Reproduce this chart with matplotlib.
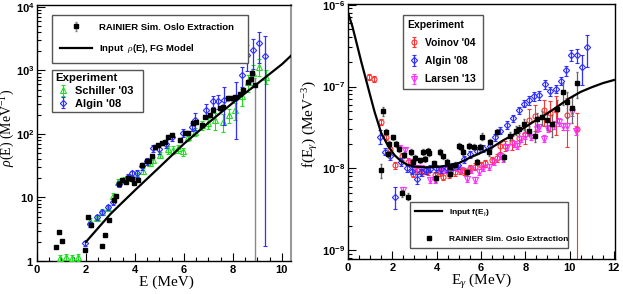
import matplotlib
matplotlib.use("Agg")
import matplotlib.pyplot as plt
from matplotlib.ticker import MultipleLocator, LogLocator, FuncFormatter, NullFormatter
from matplotlib.lines import Line2D
import numpy as np

plt.rcParams['mathtext.fontset'] = 'custom'
plt.rcParams['mathtext.rm'] = 'Liberation Serif'
plt.rcParams['mathtext.it'] = 'Liberation Serif:italic'
plt.rcParams['mathtext.bf'] = 'Liberation Sans:bold'
plt.rcParams['mathtext.sf'] = 'Liberation Sans'
plt.rcParams['font.family'] = ['Liberation Sans', 'DejaVu Sans']

# ---------------- Left panel: level density ----------------
fg_E = [2.0, 3.0, 4.0, 5.0, 6.0, 7.0, 8.0, 9.0, 10.0, 10.37]
fg_rho = [2.0, 5.5, 13.0, 30.0, 70.0, 150.0, 310.0, 620.0, 1250.0, 1700.0]

rho_blk_E = [0.76, 0.88, 1.01, 1.96, 2.09, 2.21, 2.67, 2.79, 2.94, 3.16, 3.21, 3.33,
             3.46, 3.62, 3.73, 3.86, 3.97, 4.11, 4.30, 4.48, 4.59, 4.71, 4.82, 4.95,
             5.09, 5.22, 5.36, 5.50, 5.84, 6.04, 6.18, 6.38, 6.50, 6.72, 6.86, 7.05,
             7.20, 7.47, 7.60, 7.81, 7.95, 8.08, 8.29, 8.42, 8.63, 8.74, 8.78, 8.90]
rho_blk = [1.68, 2.83, 2.07, 1.49, 5.0, 3.7, 1.72, 2.6, 4.4, 9.1, 10.5, 16.0,
           19.0, 17.7, 20.5, 19.5, 16.7, 19.0, 33.0, 38.0, 38.0, 45.0, 63.0, 67.0,
           71.0, 76.0, 91.0, 96.0, 80.0, 102.0, 104.0, 147.0, 155.0, 138.0, 187.0, 200.0,
           240.0, 253.0, 270.0, 365.0, 365.0, 380.0, 426.0, 490.0, 665.0, 740.0, 910.0, 590.0]
rho_blk_lo = [0.04, 0.04, 0.04, 0.04, 0.04, 0.04, 0.04, 0.04, 0.04, 0.04, 0.04, 0.04,
              0.04, 0.04, 0.04, 0.04, 0.04, 0.04, 0.04, 0.04, 0.04, 0.04, 0.04, 0.04,
              0.04, 0.04, 0.04, 0.04, 0.06, 0.06, 0.06, 0.06, 0.06, 0.06, 0.06, 0.06,
              0.06, 0.08, 0.08, 0.08, 0.08, 0.08, 0.08, 0.08, 0.12, 0.12, 0.10, 0.999]
rho_blk_hi = [0.04, 0.04, 0.04, 0.04, 0.04, 0.04, 0.04, 0.04, 0.04, 0.04, 0.04, 0.04,
              0.04, 0.04, 0.04, 0.04, 0.04, 0.04, 0.04, 0.04, 0.04, 0.04, 0.04, 0.04,
              0.04, 0.04, 0.04, 0.04, 0.06, 0.06, 0.06, 0.06, 0.06, 0.06, 0.06, 0.06,
              0.06, 0.08, 0.08, 0.08, 0.08, 0.08, 0.08, 0.08, 0.12, 0.12, 0.10, 0.30]

schiller_E = [0.93, 1.17, 1.42, 1.66, 2.16, 2.44, 2.67, 2.90, 3.10, 3.30, 3.55, 3.80,
              4.10, 4.34, 4.60, 4.75, 5.02, 5.33, 5.57, 5.77, 5.97, 6.18, 6.45, 6.72,
              7.00, 7.27, 7.60, 7.85, 8.08, 8.35, 8.60, 8.83, 9.07, 9.35]
schiller_rho = [1.12, 1.17, 1.10, 1.15, 4.3, 4.8, 5.9, 6.8, 10.5, 17.5, 19.0, 20.0,
                22.0, 26.0, 35.0, 39.0, 47.0, 57.0, 56.0, 59.0, 53.0, 91.0, 109.0, 138.0,
                150.0, 166.0, 156.0, 200.0, 240.0, 390.0, 650.0, 910.0, 1150.0, 800.0]
schiller_err = [0.12, 0.12, 0.12, 0.12, 0.1, 0.1, 0.1, 0.1, 0.1, 0.1, 0.1, 0.1,
                0.1, 0.1, 0.12, 0.12, 0.12, 0.15, 0.15, 0.15, 0.15, 0.15, 0.15, 0.15,
                0.2, 0.3, 0.3, 0.25, 0.3, 0.3, 0.3, 0.35, 0.3, 0.25]

algin_rho_E = [1.96, 2.16, 2.44, 2.67, 2.90, 3.12, 3.35, 3.73, 3.86, 4.07, 4.30, 4.49,
               4.75, 5.00, 5.25, 5.52, 5.97, 6.31, 6.45, 6.88, 7.17, 7.40, 7.65, 8.12,
               8.36, 8.58, 8.83, 9.07, 9.30]
algin_rho = [1.9, 3.8, 4.9, 5.8, 7.0, 8.5, 16.5, 21.0, 24.0, 24.0, 31.0, 37.0,
             60.0, 57.0, 70.0, 91.0, 105.0, 130.0, 166.0, 240.0, 330.0, 330.0, 345.0, 372.0,
             850.0, 1750.0, 2100.0, 2690.0, 1700.0]
algin_rho_lo = [0.1, 0.1, 0.1, 0.1, 0.1, 0.1, 0.1, 0.1, 0.1, 0.12, 0.12, 0.12,
                0.12, 0.15, 0.15, 0.15, 0.15, 0.15, 0.3, 0.25, 0.2, 0.25, 0.6, 0.78,
                0.35, 0.45, 0.5, 0.52, 0.999]
algin_rho_hi = [0.1, 0.1, 0.1, 0.1, 0.1, 0.1, 0.1, 0.1, 0.1, 0.12, 0.12, 0.12,
                0.12, 0.15, 0.15, 0.15, 0.15, 0.15, 0.3, 0.25, 0.2, 0.25, 0.6, 0.78,
                0.35, 0.45, 0.5, 0.52, 1.05]

# ---------------- Right panel: gamma strength function ----------------
gsf_E = [0.0, 0.2, 0.4, 0.6, 0.8, 1.0, 1.2, 1.5, 1.8, 2.1, 2.4, 2.7, 3.0, 3.5, 4.0,
         4.5, 5.0, 5.5, 6.0, 6.5, 7.0, 7.5, 8.0, 8.5, 9.0, 9.5, 10.0, 10.5, 11.0, 11.5, 12.0]
gsf_f = [8.0e-7, 5.4e-7, 3.3e-7, 2.0e-7, 1.25e-7, 7.8e-8, 4.9e-8, 2.7e-8, 1.9e-8, 1.45e-8,
         1.22e-8, 1.1e-8, 1.05e-8, 1.03e-8, 1.04e-8, 1.08e-8, 1.16e-8, 1.35e-8, 1.55e-8,
         1.8e-8, 2.2e-8, 2.6e-8, 3.2e-8, 3.9e-8, 4.7e-8, 5.8e-8, 7.2e-8, 8.6e-8, 9.8e-8,
         1.1e-7, 1.2e-7]

f_blk_E = [1.48, 1.57, 1.70, 1.81, 1.85, 2.04, 2.15, 2.30, 2.44, 2.52, 2.71, 2.86,
           2.95, 3.04, 3.26, 3.38, 3.46, 3.63, 3.67, 3.86, 3.98, 4.13, 4.30, 4.47,
           4.59, 4.62, 4.81, 5.00, 5.10, 5.20, 5.37, 5.45, 5.67, 5.82, 5.97, 6.05,
           6.35, 6.43, 6.73, 7.03, 7.30, 7.56, 7.71, 7.93, 8.16, 8.46, 8.54, 8.76,
           8.99, 9.20, 9.44, 9.71, 9.90, 10.10, 10.35]
f_blk = [9.5e-9, 5.0e-8, 2.8e-8, 1.5e-8, 2.0e-8, 2.4e-8, 2.0e-8, 1.7e-8, 5.0e-9, 1.45e-8, 4.5e-9, 1.6e-8,
         1.2e-8, 1.35e-8, 1.25e-8, 1.6e-8, 1.3e-8, 1.65e-8, 1.55e-8, 1.15e-8, 7.6e-9, 1.6e-8, 1.4e-8, 1.2e-8,
         8.5e-9, 1.05e-8, 1.1e-8, 1.9e-8, 1.8e-8, 1.6e-8, 9.0e-9, 1.9e-8, 1.82e-8, 1.2e-8, 1.82e-8, 2.45e-8,
         1.58e-8, 2.1e-8, 2.75e-8, 1.37e-8, 2.5e-8, 2.9e-8, 3.05e-8, 3.5e-8, 2.9e-8, 2.5e-8, 4.0e-8, 4.2e-8,
         3.9e-8, 3.5e-8, 5.3e-8, 8.5e-8, 6.4e-8, 5.5e-8, 1.1e-7]
f_blk_err = [0.2, 0.12, 0.08, 0.08, 0.08, 0.08, 0.08, 0.08, 0.1, 0.08, 0.1, 0.08,
             0.08, 0.08, 0.08, 0.08, 0.08, 0.08, 0.08, 0.08, 0.1, 0.08, 0.08, 0.08,
             0.08, 0.08, 0.08, 0.08, 0.08, 0.08, 0.08, 0.08, 0.08, 0.08, 0.08, 0.1,
             0.1, 0.1, 0.1, 0.1, 0.12, 0.12, 0.12, 0.15, 0.15, 0.15, 0.2, 0.2,
             0.25, 0.3, 0.3, 0.3, 0.35, 0.35, 0.35]

voinov_E = [0.96, 1.18, 1.48, 1.70, 1.90, 2.13, 2.44, 2.70, 2.95, 3.10, 3.35, 3.60,
            3.94, 4.17, 4.31, 4.55, 4.84, 5.05, 5.22, 5.52, 5.75, 6.00, 6.20, 6.50,
            6.73, 6.88, 7.10, 7.40, 7.71, 8.00, 8.16, 8.42, 8.84, 9.10, 9.37, 9.90, 10.35]
voinov_f = [1.32e-7, 1.24e-7, 3.7e-8, 2.4e-8, 1.7e-8, 1.1e-8, 1.4e-8, 1.2e-8, 8.6e-9, 9.5e-9, 9.0e-9, 9.2e-9,
            8.2e-9, 8.9e-9, 7.9e-9, 8.5e-9, 9.0e-9, 9.5e-9, 9.3e-9, 1.0e-8, 1.05e-8, 1.1e-8, 1.15e-8, 1.25e-8,
            1.35e-8, 1.85e-8, 1.9e-8, 2.1e-8, 2.37e-8, 2.65e-8, 3.9e-8, 4.4e-8, 5.1e-8, 4.8e-8, 5.1e-8, 4.5e-8, 3.05e-8]
voinov_lo = [0.08, 0.08, 0.08, 0.08, 0.08, 0.1, 0.1, 0.1, 0.1, 0.1, 0.1, 0.1,
             0.1, 0.1, 0.1, 0.1, 0.1, 0.1, 0.1, 0.1, 0.1, 0.1, 0.1, 0.1,
             0.12, 0.15, 0.15, 0.2, 0.2, 0.25, 0.35, 0.35, 0.35, 0.4, 0.5, 0.6, 0.999]
voinov_hi = [0.08, 0.08, 0.08, 0.08, 0.08, 0.1, 0.1, 0.1, 0.1, 0.1, 0.1, 0.1,
             0.1, 0.1, 0.1, 0.1, 0.1, 0.1, 0.1, 0.1, 0.1, 0.1, 0.1, 0.1,
             0.12, 0.15, 0.15, 0.2, 0.2, 0.25, 0.35, 0.35, 0.35, 0.4, 0.5, 0.6, 0.55]

algin_f_E = [1.45, 1.67, 1.90, 2.13, 2.40, 2.67, 2.88, 3.10, 3.30, 3.50, 3.71, 3.95,
             4.20, 4.47, 4.70, 4.95, 5.22, 5.52, 5.82, 6.10, 6.43, 6.65, 6.88, 7.16,
             7.44, 7.71, 7.93, 8.16, 8.39, 8.61, 8.87, 9.11, 9.37, 9.60, 9.82, 10.05,
             10.32, 10.57, 10.80]
algin_f = [2.45e-8, 1.6e-8, 1.4e-8, 4.5e-9, 1.2e-8, 1.0e-8, 9.4e-9, 7.5e-9, 9.0e-9, 9.5e-9, 9.9e-9, 1.0e-8,
           9.8e-9, 1.0e-8, 1.05e-8, 1.1e-8, 1.3e-8, 1.5e-8, 1.65e-8, 1.75e-8, 1.9e-8, 2.4e-8, 2.9e-8, 3.4e-8,
           4.1e-8, 5.1e-8, 6.2e-8, 6.8e-8, 7.6e-8, 7.8e-8, 1.06e-7, 8.8e-8, 9.4e-8, 1.18e-7, 1.57e-7, 2.4e-7,
           2.4e-7, 1.75e-7, 3.0e-7]
algin_f_err = [0.2, 0.1, 0.1, 0.3, 0.1, 0.1, 0.1, 0.15, 0.1, 0.1, 0.1, 0.1,
               0.1, 0.1, 0.1, 0.1, 0.1, 0.1, 0.1, 0.1, 0.1, 0.1, 0.1, 0.1,
               0.1, 0.1, 0.1, 0.12, 0.12, 0.12, 0.12, 0.12, 0.12, 0.12, 0.15, 0.15,
               0.2, 0.4, 0.42]

larsen_E = [2.30, 2.50, 2.58, 2.80, 3.05, 3.30, 3.50, 3.71, 3.94, 4.15, 4.40, 4.65,
            4.90, 5.10, 5.37, 5.55, 5.75, 5.90, 6.10, 6.35, 6.60, 6.85, 7.00, 7.18,
            7.48, 7.63, 7.80, 8.00, 8.25, 8.54, 8.61, 8.84, 9.02, 9.29, 9.51, 9.70,
            9.90, 10.12, 10.27]
larsen_f = [1.75e-8, 5.4e-9, 1.66e-8, 1.2e-8, 1.0e-8, 1.0e-8, 9.5e-9, 7.2e-9, 7.2e-9, 9.5e-9, 9.6e-9, 9.3e-9,
            1.0e-8, 9.5e-9, 7.5e-9, 9.5e-9, 7.2e-9, 9.0e-9, 1.0e-8, 1.05e-8, 1.2e-8, 1.4e-8, 1.3e-8, 1.8e-8,
            2.0e-8, 1.9e-8, 2.3e-8, 2.5e-8, 2.4e-8, 3.05e-8, 3.2e-8, 2.3e-8, 3.05e-8, 3.4e-8, 3.7e-8, 3.3e-8,
            3.3e-8, 4.9e-8, 2.9e-8]
larsen_err = [0.08, 0.1, 0.08, 0.08, 0.08, 0.08, 0.08, 0.08, 0.08, 0.08, 0.08, 0.08,
              0.08, 0.08, 0.08, 0.08, 0.08, 0.08, 0.08, 0.08, 0.08, 0.08, 0.08, 0.08,
              0.08, 0.08, 0.08, 0.08, 0.08, 0.1, 0.1, 0.1, 0.1, 0.1, 0.1, 0.1,
              0.1, 0.12, 0.12]

BLUE = '#2f2fff'
GREEN = '#22dd22'
RED = '#ff3333'
MAG = '#ff33ff'


def asym(vals, lo, hi):
    v = np.asarray(vals)
    return [v * np.asarray(lo), v * np.asarray(hi)]


fig = plt.figure(figsize=(6.23, 2.94), dpi=100)
axL = fig.add_axes([37 / 623, 1 - 261 / 294, 254 / 623, 256 / 294])
axR = fig.add_axes([348 / 623, 1 - 259 / 294, 267 / 623, 255 / 294])

tickfont = dict(family='Liberation Sans', weight='bold', size=8)

# ----- left -----
ax = axL
ax.set_yscale('log')
ax.set_xlim(0, 10.37)
ax.set_ylim(1, 1.07e4)
h_sch = ax.errorbar(schiller_E, schiller_rho, yerr=asym(schiller_rho, schiller_err, schiller_err),
                    fmt='^', ms=3.8, mfc='none', mec=GREEN, mew=0.8, ecolor=GREEN, elinewidth=0.8,
                    capsize=1.5, capthick=0.8, zorder=3)
h_alg = ax.errorbar(algin_rho_E, algin_rho, yerr=asym(algin_rho, algin_rho_lo, algin_rho_hi),
                    fmt='D', ms=3.2, mfc='none', mec=BLUE, mew=0.8, ecolor=BLUE, elinewidth=0.9,
                    capsize=1.5, capthick=0.8, zorder=4)
h_blk = ax.errorbar(rho_blk_E, rho_blk, yerr=asym(rho_blk, rho_blk_lo, rho_blk_hi),
                    fmt='s', ms=3.2, color='black', ecolor='#888888', elinewidth=1.0,
                    capsize=1.0, zorder=5)
h_fg, = ax.plot(fg_E, fg_rho, color='black', lw=1.6, zorder=6)

# ----- right -----
ax = axR
ax.set_yscale('log')
ax.set_xlim(0, 12.05)
ax.set_ylim(7.8e-10, 1.02e-6)
h_voi = ax.errorbar(voinov_E, voinov_f, yerr=asym(voinov_f, voinov_lo, voinov_hi),
                    fmt='o', ms=3.6, mfc='none', mec=RED, mew=0.8, ecolor=RED, elinewidth=0.8,
                    capsize=1.5, capthick=0.8, zorder=3)
h_lar = ax.errorbar(larsen_E, larsen_f, yerr=asym(larsen_f, larsen_err, larsen_err),
                    fmt='v', ms=3.8, mfc='none', mec=MAG, mew=0.8, ecolor=MAG, elinewidth=0.8,
                    capsize=1.2, capthick=0.8, zorder=3)
h_alg2 = ax.errorbar(algin_f_E, algin_f, yerr=asym(algin_f, algin_f_err, algin_f_err),
                     fmt='D', ms=3.2, mfc='none', mec=BLUE, mew=0.8, ecolor=BLUE, elinewidth=0.9,
                     capsize=1.5, capthick=0.8, zorder=4)
h_blk2 = ax.errorbar(f_blk_E, f_blk, yerr=asym(f_blk, f_blk_err, f_blk_err),
                     fmt='s', ms=3.2, color='black', ecolor='#666666', elinewidth=0.9,
                     capsize=1.0, zorder=5)
h_gsf, = ax.plot(gsf_E, gsf_f, color='black', lw=1.6, zorder=6)


def decade_fmt(v, pos):
    e = int(round(np.log10(v)))
    if e == 0:
        return r'$\mathbf{1}$'
    if e == 1:
        return r'$\mathbf{10}$'
    return r'$\mathbf{10^{%d}}$' % e


for ax in (axL, axR):
    ax.xaxis.set_major_locator(MultipleLocator(2))
    ax.xaxis.set_minor_locator(MultipleLocator(0.5))
    ax.yaxis.set_major_locator(LogLocator(base=10, numticks=20))
    ax.yaxis.set_minor_locator(LogLocator(base=10, subs=np.arange(2, 10), numticks=20))
    ax.yaxis.set_major_formatter(FuncFormatter(decade_fmt))
    ax.yaxis.set_minor_formatter(NullFormatter())
    ax.tick_params(which='both', direction='in', top=False, right=False, width=0.8)
    ax.tick_params(which='major', length=6)
    ax.tick_params(which='minor', length=3)
    ax.tick_params(axis='y', which='major', pad=2, labelsize=8)
    ax.tick_params(axis='x', which='major', pad=3)
    for lbl in ax.get_xticklabels():
        lbl.set_fontproperties(tickfont)
    for s in ax.spines.values():
        s.set_linewidth(1.0)

axL.spines['right'].set_color('#9a9a9a')
axL.spines['right'].set_linewidth(1.5)

labfont = dict(family='Liberation Serif', size=11)
axL.set_xlabel('E (MeV)', fontdict=labfont)
axL.set_ylabel(r'$\rho$(E) (MeV$^{\mathrm{-1}}$)', fontdict=dict(family='Liberation Serif', size=10))
axR.set_xlabel(r'E$_{\gamma}$ (MeV)', fontdict=labfont)
axR.set_ylabel(r'f(E$_{\gamma}$) (MeV$^{\mathrm{-3}}$)', fontdict=labfont)
axL.xaxis.set_label_coords(0.51, -0.055)
axR.xaxis.set_label_coords(0.50, -0.052)
axL.yaxis.set_label_coords(-0.077, 0.52)
axR.yaxis.set_label_coords(-0.105, 0.53)

legkw = dict(frameon=True, fancybox=False, framealpha=1, edgecolor='#555555',
             loc='upper left', mode='expand', borderaxespad=0)

# left legends
leg1 = axL.legend([h_blk, h_fg], ['RAINIER Sim. Oslo Extraction', r'Input  $\rho$(E), FG Model'],
                  bbox_to_anchor=(0.059, 0.777, 0.771, 0.184),
                  prop=dict(family='Liberation Sans', weight='bold', size=6.8),
                  handlelength=3.4, handletextpad=0.75, borderpad=0.8, labelspacing=1.15, **legkw)
leg1.get_frame().set_linewidth(1.0)
axL.add_artist(leg1)
leg2 = axL.legend([h_sch, h_alg], ["Schiller '03", "Algin '08"],
                  bbox_to_anchor=(0.059, 0.5625, 0.358, 0.184),
                  prop=dict(family='Liberation Sans', weight='bold', size=8),
                  title='Experiment', title_fontproperties=dict(family='Liberation Sans', weight='bold', size=8.2),
                  alignment='left', handlelength=1.4, handletextpad=0.4, borderpad=0.3,
                  labelspacing=0.25, **legkw)
leg2.get_frame().set_linewidth(1.0)

# right legends
leg3 = axR.legend([h_voi, h_alg2, h_lar], ["Voinov '04", "Algin '08", "Larsen '13"],
                  bbox_to_anchor=(0.206, 0.627, 0.30, 0.33),
                  prop=dict(family='Liberation Sans', weight='bold', size=7.4),
                  title='Experiment', title_fontproperties=dict(family='Liberation Sans', weight='bold', size=7.5),
                  alignment='left', handlelength=1.2, handletextpad=0.45, borderpad=0.45,
                  labelspacing=0.8, **legkw)
leg3.get_frame().set_linewidth(1.0)
axR.add_artist(leg3)
blk_marker = Line2D([], [], ls='none', marker='s', ms=3.2, color='black')
leg4 = axR.legend([h_gsf, blk_marker], [r'Input f(E$_{\gamma}$)', 'RAINIER Sim. Oslo Extraction'],
                  bbox_to_anchor=(0.232, 0.031, 0.592, 0.1925),
                  prop=dict(family='Liberation Sans', weight='bold', size=6),
                  handlelength=3.2, handletextpad=0.85, borderpad=0.65, labelspacing=2.0, **legkw)
leg4.get_frame().set_linewidth(1.0)

fig.savefig('out.png', dpi=100)
